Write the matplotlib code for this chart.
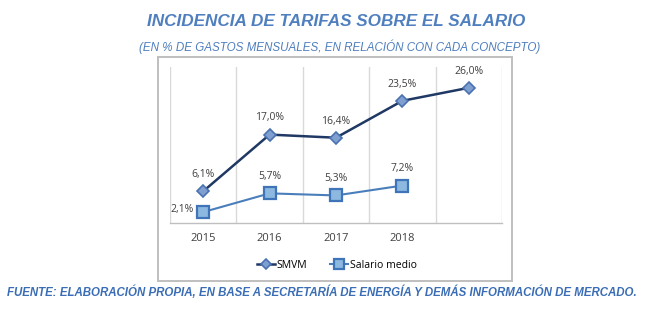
import matplotlib
matplotlib.use("Agg")
import matplotlib.pyplot as plt
from matplotlib.patches import Rectangle
import numpy as np

categories = ["2015", "2016", "2017", "2018", ""]
smvm = [6.1, 17.0, 16.4, 23.5, 26.0]
salario = [2.1, 5.7, 5.3, 7.2, np.nan]
smvm_labels = ["6,1%", "17,0%", "16,4%", "23,5%", "26,0%"]
salario_labels = ["2,1%", "5,7%", "5,3%", "7,2%", ""]

title = "INCIDENCIA DE TARIFAS SOBRE EL SALARIO"
subtitle = "(EN % DE GASTOS MENSUALES, EN RELACIÓN CON CADA CONCEPTO)"
footer = "FUENTE: ELABORACIÓN PROPIA, EN BASE A SECRETARÍA DE ENERGÍA Y DEMÁS INFORMACIÓN DE MERCADO."

W, H = 664, 326
fig = plt.figure(figsize=(W / 100, H / 100), dpi=100)
fig.patch.set_facecolor("white")

# outer chart frame
fig.add_artist(Rectangle((158 / W, 1 - 281 / H), (512 - 158) / W, (281 - 57) / H,
                         transform=fig.transFigure, fill=False,
                         edgecolor="#bfbfbf", linewidth=1.4))

ax = fig.add_axes([170 / W, 1 - 223 / H, (502 - 170) / W, (223 - 67) / H])
x = np.arange(len(categories))
ax.set_xlim(-0.5, len(categories) - 0.5)
ax.set_ylim(0, 30)
for b in np.arange(-0.5, len(categories), 1.0):
    ax.axvline(b, color="#d9d9d9", linewidth=1.0, zorder=0)
for s in ["top", "left", "right"]:
    ax.spines[s].set_visible(False)
ax.spines["bottom"].set_color("#bfbfbf")
ax.spines["bottom"].set_linewidth(1.0)
ax.set_yticks([])
ax.set_xticks(x)
ax.set_xticklabels(categories, fontsize=8, color="#404040", family="Open Sans")
ax.tick_params(axis="x", length=0, pad=7)

navy = "#1f3864"
blue = "#4a7ebb"
l1, = ax.plot(x, smvm, color=navy, linewidth=1.8, marker="D", markersize=6.3,
              markerfacecolor="#7f9fd0", markeredgecolor="#4a72b0",
              markeredgewidth=1.2, label="SMVM", zorder=3)
l2, = ax.plot(x, salario, color=blue, linewidth=1.5, marker="s", markersize=8.5,
              markerfacecolor="#8db9e0", markeredgecolor="#3f74b8",
              markeredgewidth=1.6, label="Salario medio", zorder=3)

for xi, v, t in zip(x, smvm, smvm_labels):
    ax.annotate(t, (xi, v), xytext=(0, 12), textcoords="offset points",
                ha="center", va="center", fontsize=7.5, color="#404040",
                family="Open Sans")
for i, (xi, v, t) in enumerate(zip(x, salario, salario_labels)):
    if not t:
        continue
    if i == 0:
        ax.annotate(t, (xi, v), xytext=(-7, 2), textcoords="offset points",
                    ha="right", va="center", fontsize=7.5, color="#404040",
                    family="Open Sans")
    else:
        ax.annotate(t, (xi, v), xytext=(0, 12), textcoords="offset points",
                    ha="center", va="center", fontsize=7.5, color="#404040",
                    family="Open Sans")

fig.legend(handles=[l1, l2], loc="center", bbox_to_anchor=(337 / W, 1 - 265 / H),
           ncol=2, frameon=False, handlelength=1.7,
           columnspacing=2.2, handletextpad=0.2, markerscale=0.8,
           prop={"family": "Open Sans", "size": 7.5})

fig.text(336 / W, 1 - 22 / H, title, ha="center", va="center", fontsize=12.3,
         fontweight="bold", fontstyle="italic", color="#4f7fbe",
         family="Liberation Sans")
fig.text(340 / W, 1 - 47 / H, subtitle, ha="center", va="center", fontsize=8.4,
         fontstyle="italic", color="#4f7fbe", family="Liberation Sans")
fig.text(322 / W, 1 - 292 / H, footer, ha="center", va="center", fontsize=8.3,
         fontweight="bold", fontstyle="italic", color="#3a6db5",
         family="Liberation Sans")

fig.savefig("out.png", dpi=100, facecolor="white")
